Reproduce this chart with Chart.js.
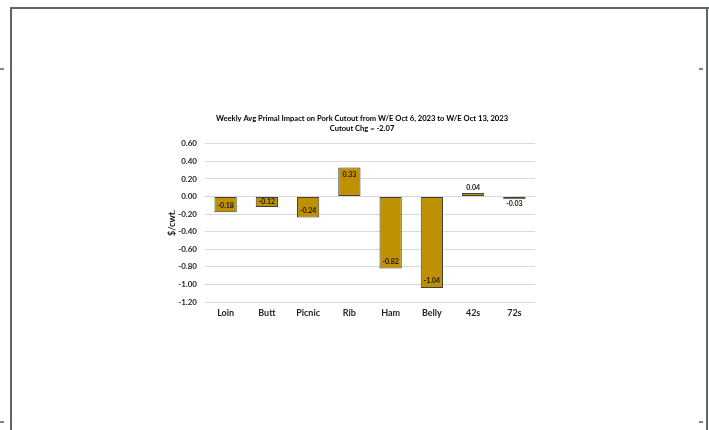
<!DOCTYPE html>
<html>
<head>
<meta charset="utf-8">
<script src="https://cdn.jsdelivr.net/npm/chart.js@4/dist/chart.umd.min.js"></script>
<style>
  body { margin: 0; background: #fff; }
  #wrap { position: relative; width: 709px; height: 430px; overflow: hidden; }
  #cutout { position: absolute; left: 0; top: 0; }
  .edge { position: absolute; background: #5c6770; }
  .tick { position: absolute; background: #7a8590; width: 4px; height: 2px; }
</style>
</head>
<body>
<div id="wrap">
  <canvas id="cutout" width="709" height="430"></canvas>
  <!-- page frame around the chart -->
  <div class="edge" style="left:10px;top:7px;width:699px;height:2px"></div>
  <div class="edge" style="left:10px;top:7px;width:2px;height:423px"></div>
  <div class="edge" style="left:706px;top:7px;width:2px;height:423px"></div>
  <div class="tick" style="left:0px;top:68px"></div>
  <div class="tick" style="left:699px;top:68px"></div>
  <div class="tick" style="left:0px;top:421px"></div>
  <div class="tick" style="left:699px;top:421px"></div>
</div>
<script>
// primal impact values, $/cwt.
const primals = ['Loin', 'Butt', 'Picnic', 'Rib', 'Ham', 'Belly', '42s', '72s'];
const impact = [-0.18, -0.12, -0.24, 0.33, -0.82, -1.04, 0.04, -0.03];
const titleLines = [
    'Weekly Avg Primal Impact on Pork Cutout from W/E Oct 6, 2023 to W/E Oct 13, 2023',
    'Cutout Chg = -2.07'
];

const FONT = 'Lato, "Liberation Sans", sans-serif';

// Excel style labels: inside end for tall bars, outside end for tiny ones
const barLabels = {
    id: 'barLabels',
    afterDatasetsDraw(chart) {
        const ctx = chart.ctx;
        const meta = chart.getDatasetMeta(0);
        ctx.save();
        ctx.font = 'bold 7px ' + FONT;
        ctx.fillStyle = '#1a1a1a';
        ctx.textAlign = 'center';
        ctx.textBaseline = 'middle';
        meta.data.forEach((bar, i) => {
            let v = impact[i];
            let h = Math.abs(bar.base - bar.y);
            let dir = v < 0 ? 1 : -1;
            let y;
            if (h >= 10) {
                y = bar.y - dir * Math.min(7, h / 2);
            } else {
                y = bar.y + dir * 5;
            }
            ctx.fillText(v.toFixed(2), bar.x, y);
        });
        ctx.restore();
    }
};

// the original title sits a bit right of the canvas middle
const titleShift = {
    id: 'titleShift',
    afterLayout(chart) {
        chart.titleBlock.left += 29;
    }
};

var ctx = document.getElementById('cutout').getContext('2d');
new Chart(ctx, {
    type: 'bar',
    data: {
        labels: primals,
        datasets: [{
            data: impact,
            backgroundColor: '#bf9000',
            borderColor: '#404040',
            borderWidth: 1,
            borderSkipped: false,
            barPercentage: 0.6,
            categoryPercentage: 0.9
        }]
    },
    options: {
        responsive: false,
        animation: false,
        layout: {
            padding: { left: 160, right: 174, top: 114, bottom: 98 }
        },
        plugins: {
            legend: { display: false },
            tooltip: { enabled: false },
            title: {
                display: true,
                text: titleLines,
                color: '#000',
                font: { family: FONT, size: 7.6, weight: 'bold', lineHeight: 1.3 },
                padding: { top: 0, bottom: 10 }
            }
        },
        scales: {
            x: {
                grid: { display: false, drawTicks: false },
                border: { display: false },
                ticks: {
                    color: '#262626',
                    padding: 6,
                    font: { family: FONT, size: 9, weight: 'bold' }
                },
                afterFit(scale) { scale.height = 30; }
            },
            y: {
                min: -1.2,
                max: 0.6,
                ticks: {
                    stepSize: 0.2,
                    padding: 8,
                    color: '#262626',
                    font: { family: FONT, size: 8, weight: 'bold' },
                    callback: v => v.toFixed(2)
                },
                grid: { color: '#d9d9d9', drawTicks: false },
                border: { display: false },
                title: {
                    display: true,
                    text: '$/cwt.',
                    color: '#1a1a1a',
                    padding: { top: 7, bottom: 0 },
                    font: { family: FONT, size: 9, weight: 'bold' }
                },
                afterFit(scale) { scale.width = 45; }
            }
        }
    },
    plugins: [barLabels, titleShift]
});
</script>
</body>
</html>
